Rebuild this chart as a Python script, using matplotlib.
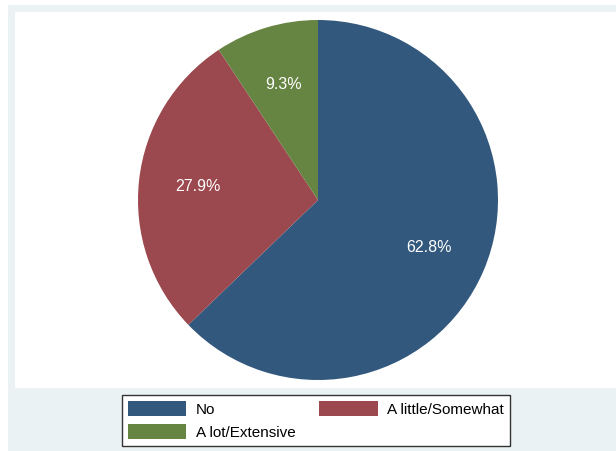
import matplotlib.pyplot as plt
from matplotlib.patches import Rectangle

# data
labels = ["No", "A little/Somewhat", "A lot/Extensive"]
shares = [62.8, 27.9, 9.3]
colors = ["#32587D", "#9B484E", "#668442"]

W, H = 616, 451
fig = plt.figure(figsize=(W / 100, H / 100), dpi=100)
fig.patch.set_facecolor("white")

# Stata-style outer background and white plot region
fig.patches.append(Rectangle((8 / W, -0.01), 1, (H - 5) / H + 0.01, transform=fig.transFigure,
                             facecolor="#EAF2F3", edgecolor="none", zorder=-2))
fig.patches.append(Rectangle((15 / W, (H - 388) / H), 1, (388 - 12) / H,
                             transform=fig.transFigure, facecolor="white",
                             edgecolor="none", zorder=-1))

# pie: centre (318, 200), radius 180 px
r = 180
ax = fig.add_axes([(318 - r) / W, (H - 200 - r) / H, 2 * r / W, 2 * r / H])
ax.set_zorder(2)
ax.set_facecolor("none")
wedges, texts, autotexts = ax.pie(
    shares, colors=colors, startangle=90, counterclock=False,
    autopct="%1.1f%%", pctdistance=0.67, radius=1,
    wedgeprops=dict(linewidth=0),
    textprops=dict(color="white", fontsize=11.5, family=["Liberation Sans", "DejaVu Sans"]))
ax.set_xlim(-1, 1)
ax.set_ylim(-1, 1)

# legend filled row-wise like Stata: reorder for matplotlib's column fill
order = [0, 2, 1]
leg = fig.legend([wedges[i] for i in order], [labels[i] for i in order],
                 loc="center", bbox_to_anchor=(316 / W, (H - 420.5) / H),
                 ncol=2, fancybox=False, framealpha=1, edgecolor="#333333",
                 prop=dict(family=["Liberation Sans", "DejaVu Sans"], size=11),
                 handlelength=3.8, handleheight=1.1, handletextpad=0.65,
                 columnspacing=1.57, labelspacing=0.5, borderpad=0.38)
leg.get_frame().set_linewidth(1.0)
leg.set_zorder(3)

fig.savefig("out.png", dpi=100)
